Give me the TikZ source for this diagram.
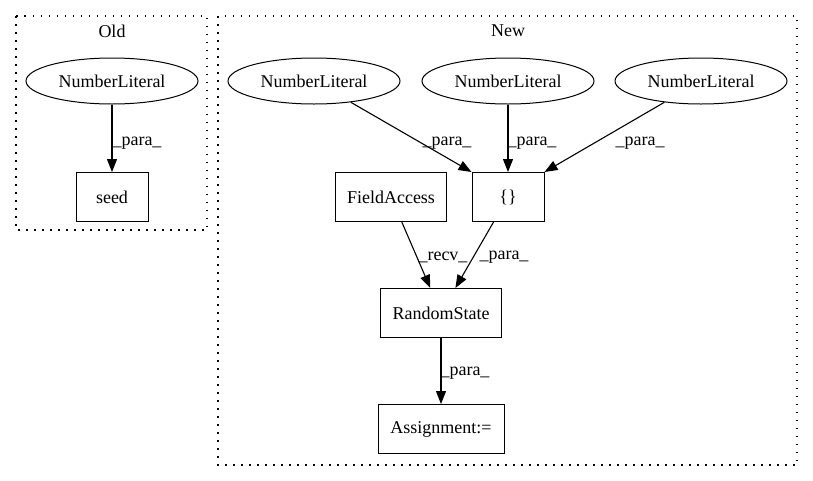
\documentclass[tikz,border=0pt]{standalone}
\usepackage{fontspec}
\setmainfont{Liberation Serif}
\usetikzlibrary{shapes.geometric,arrows.meta}

\begin{document}
\begin{tikzpicture}[x=1pt,y=-1pt,
  lit/.style={draw,ellipse,line width=1pt,minimum width=172pt,minimum height=46pt,inner sep=0pt},
  box/.style={draw,rectangle,line width=1pt,minimum height=49pt,inner sep=0pt},
  arr/.style={line width=1.1pt,-{Triangle[length=13pt,width=10pt]}},
  clus/.style={line width=1.2pt,dash pattern=on 1.5pt off 6.5pt},
  lbl/.style={inner sep=0pt},
  font=\fontsize{18}{21}\selectfont]
\useasboundingbox (0,0) rectangle (813,480);
\draw [clus] (16,16) rectangle (207,230);
\draw [clus] (218,16) rectangle (797,465);
\node (old) at (112,31) {Old};
\node (new) at (508,31) {New};

\node [lit] (nl0) at (112,81) {NumberLiteral};
\node [box,minimum width=72pt] (seed) at (112,197) {seed};

\node [lit] (nl1) at (314,81) {NumberLiteral};
\node [lit] (nl2) at (508,81) {NumberLiteral};
\node [lit] (nl3) at (701,81) {NumberLiteral};
\node [box,minimum width=72pt] (brace) at (508,197) {\{\}};
\node [box,minimum width=111pt] (field) at (391,197) {FieldAccess};
\node [box,minimum width=121pt] (rs) at (441,313) {RandomState};
\node [box,minimum width=126pt] (asg) at (441,429) {Assignment:=};

\draw [arr] (nl0) -- (seed);
\draw [arr] (nl1) -- (brace.north west);
\draw [arr] (nl2) -- (brace);
\draw [arr] (nl3) -- (brace.north east);
\draw [arr] (field) -- (rs);
\draw [arr] (brace) -- (rs);
\draw [arr] (rs) -- (asg);

\node [lbl] (l0) at (137,143) {\_para\_};
\node [lbl] (l1) at (447,143) {\_para\_};
\node [lbl] (l2) at (532,143) {\_para\_};
\node [lbl] (l3) at (640,143) {\_para\_};
\node [lbl] (l4) at (443,257) {\_recv\_};
\node [lbl] (l5) at (504,257) {\_para\_};
\node [lbl] (l6) at (465,373) {\_para\_};
\end{tikzpicture}
\end{document}
